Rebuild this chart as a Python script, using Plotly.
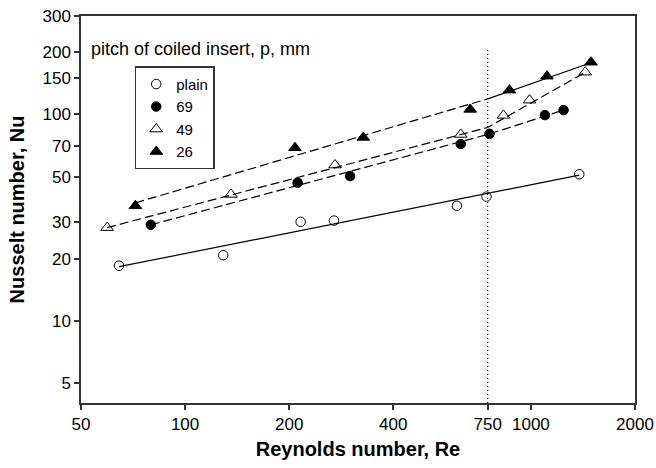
import numpy as np
import plotly.graph_objects as go

# ---- data (Reynolds number, Nusselt number) ----
re_plain = [64.4, 128.9, 215.9, 269.5, 611, 744, 1380]
nu_plain = [18.5, 20.8, 30.2, 30.6, 36.1, 40.0, 51.3]

re_p69 = [79.6, 211.5, 300, 627, 759, 1098, 1243]
nu_p69 = [29.2, 46.7, 50.3, 71.9, 80.6, 99.3, 105]

re_p49 = [59.5, 135.7, 271.4, 627, 833, 991, 1436]
nu_p49 = [28.3, 41.0, 56.9, 80.0, 99.0, 117.3, 160.3]

re_p26 = [71.8, 207.8, 327.6, 667.5, 867, 1113, 1492]
nu_p26 = [36.1, 69.0, 77.4, 105.8, 131.2, 153.3, 179.2]

# correlation (fit) lines: below / above the transition Reynolds number
re_transition = 750
fit_plain_re = [64.4, 1380]
fit_plain_nu = [18.3, 50.8]
fit69_re = [79.6, 750, 1243]
fit69_nu = [29.2, 80.0, 105]
fit49_re = [59.5, 750, 1436]
fit49_nu = [28.3, 86.5, 160]
fit26_lo_re = [71.8, 750]
fit26_lo_nu = [37.3, 119]
fit26_hi_re = [750, 1492]
fit26_hi_nu = [119, 178]
transition_nu = [4, 210]

x_ticks = [50, 100, 200, 400, 750, 1000, 2000]
y_ticks = [5, 10, 20, 30, 50, 70, 100, 150, 200, 300]

FONT = "Arial, Liberation Sans, sans-serif"
BLACK = "#000000"
AX = "#333333"
DASH = "9px,4px"

fig = go.Figure()

# fit lines (no legend)
def add_line(x, y, dash):
    fig.add_trace(go.Scatter(x=x, y=y, mode="lines", showlegend=False,
                             hoverinfo="skip",
                             line=dict(color=BLACK, width=1.2, dash=dash)))

add_line([re_transition, re_transition], transition_nu, "1px,3px")
add_line(fit_plain_re, fit_plain_nu, "solid")
add_line(fit69_re, fit69_nu, DASH)
add_line(fit49_re, fit49_nu, DASH)
add_line(fit26_lo_re, fit26_lo_nu, DASH)
add_line(fit26_hi_re, fit26_hi_nu, "solid")

# data markers
def add_pts(x, y, name, symbol, size):
    fig.add_trace(go.Scatter(x=x, y=y, mode="markers", name=name,
                             marker=dict(symbol=symbol, size=size, color=BLACK,
                                         line=dict(color=BLACK, width=1))))

add_pts(re_plain, nu_plain, "plain", "circle-open", 9.5)
add_pts(re_p69, nu_p69, "69", "circle", 9.5)
add_pts(re_p49, nu_p49, "49", "triangle-up-open", 11)
add_pts(re_p26, nu_p26, "26", "triangle-up", 11)

axis_common = dict(type="log", showgrid=False, zeroline=False, showline=True,
                   mirror=True, linecolor=AX, linewidth=1.5, ticks="outside",
                   ticklen=5, tickwidth=1.5, tickcolor=AX, automargin=False,
                   tickfont=dict(family=FONT, size=17, color=BLACK))

fig.update_xaxes(**axis_common,
                 range=[np.log10(50), np.log10(2000)],
                 tickvals=x_ticks, ticktext=[str(v) for v in x_ticks],
                 title=dict(text="<b>Reynolds number, Re</b>",
                            font=dict(family=FONT, size=20, color=BLACK),
                            standoff=9))
fig.update_yaxes(**axis_common,
                 range=[np.log10(4), np.log10(300)],
                 tickvals=y_ticks, ticktext=[str(v) for v in y_ticks],
                 title=dict(text="<b>Nusselt number, Nu</b>",
                            font=dict(family=FONT, size=20, color=BLACK),
                            standoff=12))

fig.add_annotation(text="pitch of coiled insert, p, mm", xref="paper", yref="paper",
                   x=0.0145, y=0.916, xanchor="left", yanchor="middle",
                   showarrow=False, font=dict(family=FONT, size=18, color=BLACK))

fig.update_layout(
    width=656, height=468,
    margin=dict(l=81, r=21, t=16, b=65),
    paper_bgcolor="white", plot_bgcolor="white",
    showlegend=True,
    legend=dict(x=0.097, y=0.87, xanchor="left", yanchor="top",
                bordercolor=AX, borderwidth=1.5, bgcolor="white",
                font=dict(family=FONT, size=15, color=BLACK),
                itemwidth=30, tracegroupgap=0),
)

fig.write_html("out.html")
